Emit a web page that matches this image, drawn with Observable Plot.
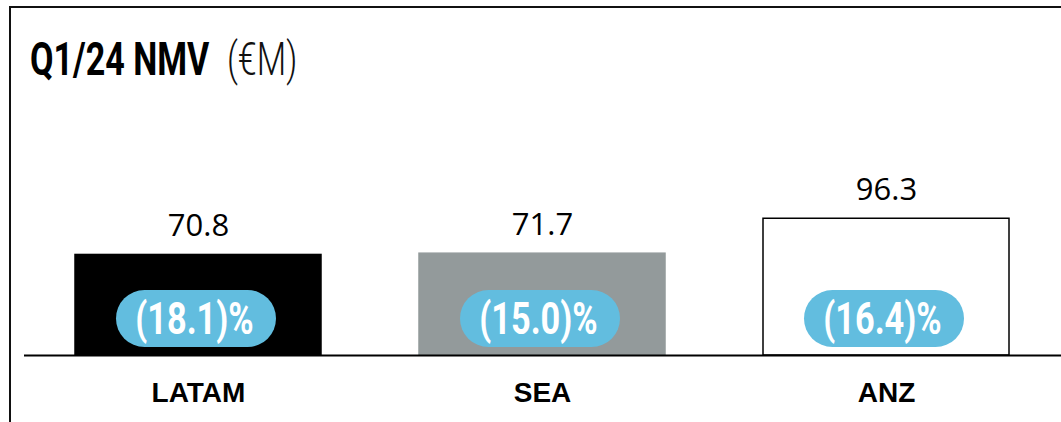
<!DOCTYPE html>
<html>
<head>
<meta charset="utf-8">
<script src="https://cdn.jsdelivr.net/npm/d3@7"></script>
<script src="https://cdn.jsdelivr.net/npm/@observablehq/plot@0.6"></script>
<style>
  html, body { margin: 0; padding: 0; background: #fff; }
  #wrap { position: relative; width: 1061px; height: 422px; overflow: hidden; background: #fff; }
  #frame { position: absolute; left: 9px; top: 6px; width: 2000px; height: 1000px;
           border-left: 2.5px solid #111; border-top: 2.5px solid #111; }
  #title { position: absolute; left: 30px; top: 36px; white-space: nowrap;
           font-family: Roboto, "DejaVu Sans", sans-serif;
           font-size: 46px; color: #000; line-height: 1;
           transform: scaleX(0.74); transform-origin: 0 0; }
  #title b { font-weight: 700; }
  #title span { font-weight: 300; color: #111; margin-left: 24px; }
  #chart { position: absolute; left: 0; top: 0; }
</style>
</head>
<body>
<div id="wrap">
  <div id="frame"></div>
  <div id="title"><b>Q1/24 NMV</b><span>(€M)</span></div>
  <div id="chart"></div>
</div>
<script>
const regions = ["LATAM", "SEA", "ANZ"];
const nmv = [70.8, 71.7, 96.3];
const growthLabels = ["(18.1)%", "(15.0)%", "(16.4)%"];
const fills = ["#000000", "#939a9b", "#ffffff"];
const strokes = ["#000000", "#939a9b", "#000000"];

const data = regions.map((r, i) => ({region: r, value: nmv[i], growth: growthLabels[i], fill: fills[i], stroke: strokes[i]}));

const chart = Plot.plot({
  width: 1061,
  height: 422,
  marginTop: 71,
  marginBottom: 67,
  marginLeft: 26,
  marginRight: 3,
  x: {domain: regions, paddingInner: 0.286, paddingOuter: 0.143, axis: null},
  y: {domain: [0, 200], axis: null},
  style: {background: "transparent", overflow: "visible"},
  marks: [
    Plot.barY(data, {x: "region", y: "value", fill: "fill", stroke: "stroke", strokeWidth: 1.5}),
    Plot.barY(data, {x: "region", y1: 0, y2: 0, insetLeft: 41, insetRight: 45,
      insetTop: -65, insetBottom: 8, rx: 28.5, fill: "#62bddf"}),
    Plot.text(data, {x: "region", y: 0, dy: -36, dx: -4, text: "growth", fill: "#fff",
      fontSize: 44, fontWeight: 700, fontFamily: 'Roboto, "DejaVu Sans", sans-serif'}),
    Plot.text(data, {x: "region", y: "value", dy: -29, text: d => d.value.toFixed(1),
      fill: "#000", fontSize: 31, fontFamily: '"Open Sans", sans-serif', fontWeight: 400}),
    Plot.ruleY([0], {stroke: "#000", strokeWidth: 2, insetLeft: -2, insetRight: -3}),
    Plot.text(data, {x: "region", y: 0, dy: 38, text: "region", fill: "#000",
      fontSize: 28, fontWeight: 700, fontFamily: '"Liberation Sans", Arial, sans-serif'})
  ]
});
// condense the pill labels horizontally (the original uses a condensed typeface)
const textGroups = chart.querySelectorAll('g[aria-label="text"]');
if (textGroups.length) {
  textGroups[0].querySelectorAll("text").forEach(t => {
    const tr = t.getAttribute("transform");
    if (tr) t.setAttribute("transform", tr + " scale(0.78,1)");
  });
}
document.getElementById("chart").appendChild(chart);
</script>
</body>
</html>
